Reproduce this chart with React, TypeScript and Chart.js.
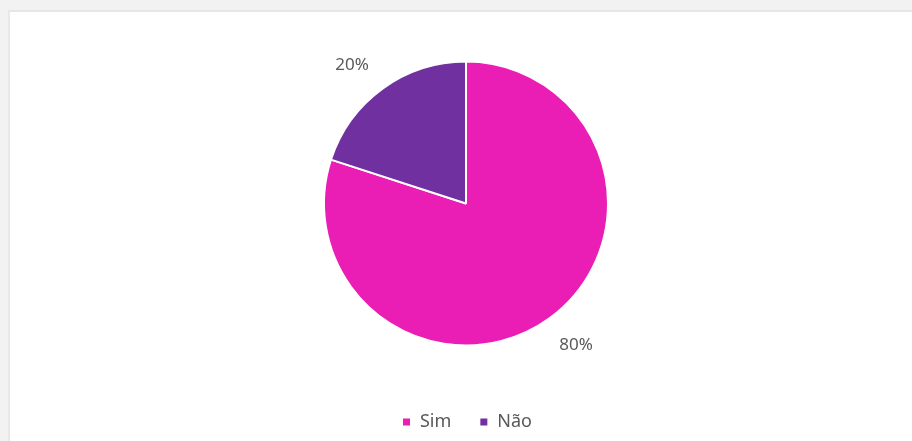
import React, { useEffect, useRef } from "react";
import { Chart, registerables } from "chart.js";

Chart.register(...registerables);

const categories = ["Sim", "Não"];
const values = [80, 20];
const valueLabels = ["80%", "20%"];
const colors = ["#EA1DB5", "#7030A0"];

const outsideLabels = {
  id: "outsideLabels",
  afterDatasetsDraw(chart: any) {
    const ctx = chart.ctx;
    const meta = chart.getDatasetMeta(0);
    ctx.save();
    ctx.font = "17px 'Noto Sans', sans-serif";
    ctx.fillStyle = "#595959";
    ctx.textAlign = "center";
    ctx.textBaseline = "middle";
    meta.data.forEach((arc: any, i: number) => {
      const p = arc.getProps(["x", "y", "startAngle", "endAngle", "outerRadius"], true);
      const mid = (p.startAngle + p.endAngle) / 2;
      const r = p.outerRadius + 20;
      const w = ctx.measureText(valueLabels[i]).width;
      const h = 18;
      const c = Math.cos(mid);
      const s = Math.sin(mid);
      const x = p.x + c * r + Math.sign(c) * w / 2 - 2;
      const y = p.y + s * r + Math.sign(s) * h / 2 + 2;
      ctx.fillText(valueLabels[i], x, y);
    });
    ctx.restore();
  },
};

const legendShift = {
  id: "legendShift",
  afterLayout(chart: any) {
    if (chart.legend) {
      chart.legend.left += 1;
      chart.legend.right += 1;
    }
  },
};

export default function App() {
  const ref = useRef<HTMLCanvasElement>(null);
  useEffect(() => {
    const chart = new Chart(ref.current!, {
      type: "pie",
      data: {
        labels: categories,
        datasets: [
          {
            data: values,
            backgroundColor: colors,
            borderColor: "#ffffff",
            borderWidth: 2,
            radius: 142,
          },
        ],
      },
      options: {
        animation: false,
        responsive: false,
        maintainAspectRatio: false,
        layout: { padding: { top: 10, bottom: 0, left: 10 } },
        plugins: {
          tooltip: { enabled: false },
          legend: {
            position: "bottom",
            labels: {
              boxWidth: 9,
              boxHeight: 9,
              padding: 28,
              color: "#595959",
              font: { family: "'Noto Sans', sans-serif", size: 18 },
            },
          },
        },
      },
      plugins: [outsideLabels, legendShift],
    });
    return () => chart.destroy();
  }, []);
  return (
    <div
      style={{
        position: "fixed",
        left: 0,
        top: 0,
        width: 912,
        height: 441,
        background: "#f2f2f2",
        overflow: "hidden",
      }}
    >
      <div
        style={{
          position: "absolute",
          left: 8,
          top: 10,
          width: 904,
          height: 431,
          background: "#ffffff",
          borderTop: "2px solid #e6e6e6",
          borderLeft: "2px solid #e8e8e8",
        }}
      >
        <canvas ref={ref} width={902} height={429} style={{ display: "block" }} />
      </div>
    </div>
  );
}
